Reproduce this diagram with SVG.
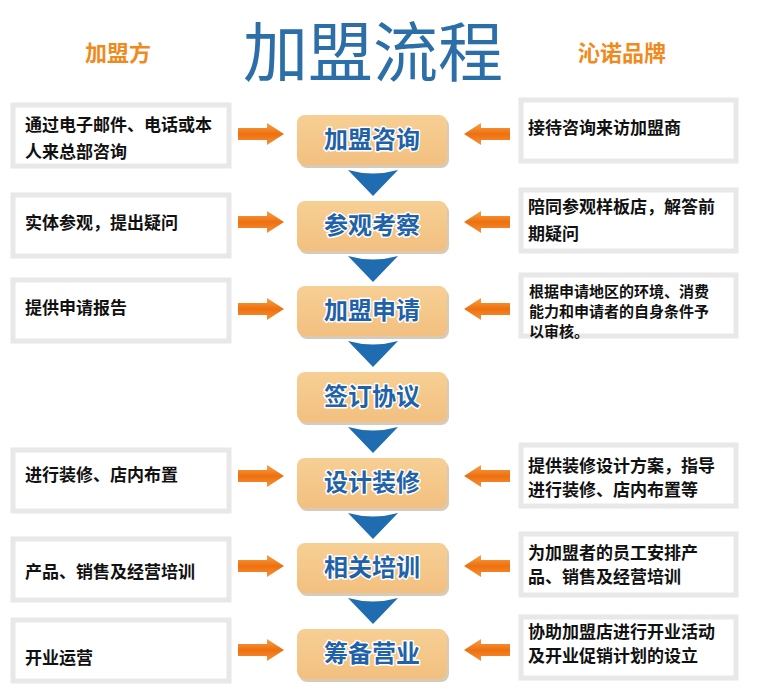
<svg xmlns="http://www.w3.org/2000/svg" width="758" height="699" viewBox="0 0 758 699">
<defs>
<style>
.cjk{font-family:"Noto Sans CJK SC","Noto Sans",sans-serif}
.title{font-size:65px;fill:#2b6ea8;text-anchor:middle}
.side{font-size:22px;font-weight:bold;fill:#f08a1c;text-anchor:middle}
.sbox{fill:#ffffff;stroke:#e8e8e8;stroke-width:5}
.stext{font-size:17px;font-weight:bold;fill:#111}
.stext2{font-size:15px;font-weight:bold;fill:#111}
.cbox{fill:url(#cg)}
.cshadow{fill:#cdbda5;opacity:0.8}
.ctext{font-size:24px;font-weight:bold;fill:#1f62aa;text-anchor:middle;stroke:#ffffff;stroke-width:3;paint-order:stroke;stroke-linejoin:round}
.tri{fill:#1f6db0}
.arr{fill:url(#ag)}
</style>
<linearGradient id="cg" x1="0" y1="0" x2="0" y2="1">
<stop offset="0" stop-color="#f7cf94"/>
<stop offset="1" stop-color="#f2c080"/>
</linearGradient>
<linearGradient id="ag" x1="0" y1="0" x2="0" y2="1">
<stop offset="0" stop-color="#f7a24a"/>
<stop offset="0.5" stop-color="#ee700e"/>
<stop offset="1" stop-color="#f5923a"/>
</linearGradient>
<path id="arrow" d="M0,-6 H29 V-11 L46,0 L29,11 V6 H0 Z"/>
<path id="down" d="M-25,0 Q0,7 25,0 L0,26 Z"/>
</defs>
<rect width="758" height="699" fill="#ffffff"/>

<g id="header">
<text class="cjk title" x="373" y="76">加盟流程</text>
<text class="cjk side" x="118" y="61">加盟方</text>
<text class="cjk side" x="622" y="61">沁诺品牌</text>
</g>

<g id="connectors">
<use href="#down" class="tri" x="373" y="170"/>
<use href="#down" class="tri" x="373" y="256"/>
<use href="#down" class="tri" x="373" y="341"/>
<use href="#down" class="tri" x="373" y="427"/>
<use href="#down" class="tri" x="373" y="513"/>
<use href="#down" class="tri" x="373" y="598"/>
<use href="#arrow" class="arr" x="238" y="134"/>
<use href="#arrow" class="arr" x="238" y="222"/>
<use href="#arrow" class="arr" x="238" y="309"/>
<use href="#arrow" class="arr" x="238" y="476"/>
<use href="#arrow" class="arr" x="238" y="566"/>
<use href="#arrow" class="arr" x="238" y="650"/>
<use href="#arrow" class="arr" transform="translate(510,134) scale(-1,1)"/>
<use href="#arrow" class="arr" transform="translate(510,222) scale(-1,1)"/>
<use href="#arrow" class="arr" transform="translate(510,309) scale(-1,1)"/>
<use href="#arrow" class="arr" transform="translate(510,476) scale(-1,1)"/>
<use href="#arrow" class="arr" transform="translate(510,566) scale(-1,1)"/>
<use href="#arrow" class="arr" transform="translate(510,650) scale(-1,1)"/>
</g>

<g id="step1">
<rect class="cshadow" x="299" y="118" width="150" height="50" rx="8"/>
<rect class="cbox" x="297" y="115" width="150" height="50" rx="8"/>
<text class="cjk ctext" x="372" y="148">加盟咨询</text>
</g>
<g id="step2">
<rect class="cshadow" x="299" y="204" width="150" height="50" rx="8"/>
<rect class="cbox" x="297" y="201" width="150" height="50" rx="8"/>
<text class="cjk ctext" x="372" y="234">参观考察</text>
</g>
<g id="step3">
<rect class="cshadow" x="299" y="289" width="150" height="50" rx="8"/>
<rect class="cbox" x="297" y="286" width="150" height="50" rx="8"/>
<text class="cjk ctext" x="372" y="319">加盟申请</text>
</g>
<g id="step4">
<rect class="cshadow" x="299" y="375" width="150" height="50" rx="8"/>
<rect class="cbox" x="297" y="372" width="150" height="50" rx="8"/>
<text class="cjk ctext" x="372" y="405">签订协议</text>
</g>
<g id="step5">
<rect class="cshadow" x="299" y="461" width="150" height="50" rx="8"/>
<rect class="cbox" x="297" y="458" width="150" height="50" rx="8"/>
<text class="cjk ctext" x="372" y="491">设计装修</text>
</g>
<g id="step6">
<rect class="cshadow" x="299" y="546" width="150" height="50" rx="8"/>
<rect class="cbox" x="297" y="543" width="150" height="50" rx="8"/>
<text class="cjk ctext" x="372" y="576">相关培训</text>
</g>
<g id="step7">
<rect class="cshadow" x="299" y="632" width="150" height="50" rx="8"/>
<rect class="cbox" x="297" y="629" width="150" height="50" rx="8"/>
<text class="cjk ctext" x="372" y="662">筹备营业</text>
</g>

<g id="left1">
<rect class="sbox" x="13" y="105" width="216" height="61"/>
<text class="cjk stext" x="25" y="131">通过电子邮件、电话或本</text>
<text class="cjk stext" x="25" y="158">人来总部咨询</text>
</g>
<g id="left2">
<rect class="sbox" x="13" y="195" width="216" height="61"/>
<text class="cjk stext" x="25" y="229">实体参观，提出疑问</text>
</g>
<g id="left3">
<rect class="sbox" x="13" y="280" width="216" height="61"/>
<text class="cjk stext" x="25" y="314">提供申请报告</text>
</g>
<g id="left5">
<rect class="sbox" x="13" y="450" width="216" height="61"/>
<text class="cjk stext" x="25" y="481">进行装修、店内布置</text>
</g>
<g id="left6">
<rect class="sbox" x="13" y="539" width="216" height="61"/>
<text class="cjk stext" x="25" y="578">产品、销售及经营培训</text>
</g>
<g id="left7">
<rect class="sbox" x="13" y="620" width="216" height="61"/>
<text class="cjk stext" x="25" y="664">开业运营</text>
</g>

<g id="right1">
<rect class="sbox" x="521" y="100" width="215" height="61"/>
<text class="cjk stext" x="528" y="134">接待咨询来访加盟商</text>
</g>
<g id="right2">
<rect class="sbox" x="521" y="190" width="215" height="61"/>
<text class="cjk stext" x="528" y="213">陪同参观样板店，解答前</text>
<text class="cjk stext" x="528" y="240">期疑问</text>
</g>
<g id="right3">
<rect class="sbox" x="521" y="275" width="215" height="61"/>
<text class="cjk stext2" x="529" y="297">根据申请地区的环境、消费</text>
<text class="cjk stext2" x="529" y="317">能力和申请者的自身条件予</text>
<text class="cjk stext2" x="529" y="337">以审核。</text>
</g>
<g id="right5">
<rect class="sbox" x="521" y="445" width="215" height="61"/>
<text class="cjk stext" x="528" y="472">提供装修设计方案，指导</text>
<text class="cjk stext" x="528" y="496">进行装修、店内布置等</text>
</g>
<g id="right6">
<rect class="sbox" x="521" y="534" width="215" height="61"/>
<text class="cjk stext" x="528" y="559">为加盟者的员工安排产</text>
<text class="cjk stext" x="528" y="583">品、销售及经营培训</text>
</g>
<g id="right7">
<rect class="sbox" x="521" y="617" width="215" height="61"/>
<text class="cjk stext" x="528" y="638">协助加盟店进行开业活动</text>
<text class="cjk stext" x="528" y="662">及开业促销计划的设立</text>
</g>
</svg>
